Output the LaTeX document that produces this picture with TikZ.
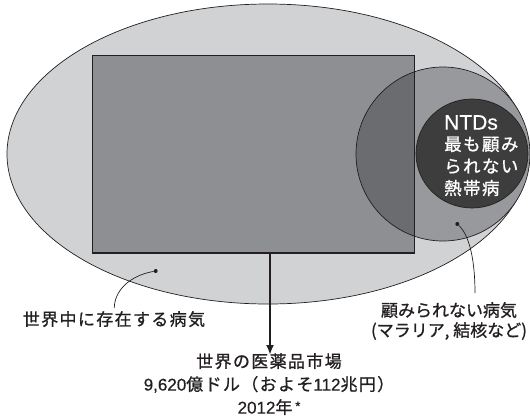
\documentclass[tikz,border=0pt]{standalone}
\usepackage{fontspec}
\setmainfont{Noto Sans CJK JP}[LetterSpace=8, FakeBold=1.0]
\newfontfamily\latn{Liberation Sans}[FakeBold=0.5]
\newfontfamily\jptight{Noto Sans CJK JP}[FakeBold=1.0]
\usetikzlibrary{arrows.meta,shapes.geometric}
\definecolor{ellfill}{HTML}{D1D2D4}
\definecolor{rectfill}{HTML}{8E8F93}
\definecolor{circfill}{HTML}{98999C}
\definecolor{overfill}{HTML}{6B6C70}
\definecolor{ntdfill}{HTML}{3D3D3D}
\definecolor{ink}{HTML}{231F20}
\tikzset{
  shapeline/.style={draw=ink, line width=0.7pt},
  lbl/.style={font=\fontsize{17}{20.5}\selectfont, align=center, inner sep=0pt, text=ink},
  leader/.style={draw=ink, line width=0.7pt},
  dotm/.style={circle, fill=ink, inner sep=0pt, minimum size=4pt},
}
\begin{document}
\begin{tikzpicture}[x=1pt,y=-1pt]
\useasboundingbox (0,0) rectangle (530,418);
% world ellipse
\node[shapeline, fill=ellfill, ellipse, minimum width=522pt, minimum height=300pt, inner sep=0pt] (world) at (268,154) {};
% neglected circle
\node[fill=circfill, circle, minimum size=174pt, inner sep=0pt] (neg) at (443,154) {};
% market rectangle
\node[shapeline, fill=rectfill, rectangle, minimum width=321.6pt, minimum height=197pt, inner sep=0pt] (market) at (253.5,154.2) {};
% overlap
\begin{scope}
  \clip (market.south west) rectangle (market.north east);
  \fill[overfill] (neg.center) circle (87pt);
\end{scope}
\draw[shapeline] (market.south west) rectangle (market.north east);
\draw[shapeline] (neg.center) circle (87pt);
% NTDs
\node[shapeline, fill=ntdfill, ellipse, minimum width=112pt, minimum height=109pt, inner sep=0pt] (ntd) at (472,153.5) {};
\node[text=white, align=left, anchor=north west, inner sep=0pt, font=\fontsize{17.5}{22}\selectfont] (ntdtxt) at (444,115)
  {{\latn\fontsize{21}{21}\selectfont NTDs}\\[-1pt]最も顧み\\られない\\熱帯病};
% dots
\node[dotm] (d1) at (155.7,271) {};
\node[dotm] (d2) at (457.3,224) {};
\coordinate (e1) at (114.3,308);
\coordinate (e2) at (475,293);
\draw[leader] (d1) .. controls (128,276) and (114.3,292) .. (e1);
\draw[leader] (d2) .. controls (470,236) and (475,262) .. (e2);
% labels
\node[lbl, anchor=north] (l1) at (114,311) {世界中に存在する病気};
\node[lbl, anchor=north, font=\jptight\fontsize{17}{20}\selectfont] (l2) at (449,302) {顧みられない病気\\(マラリア, 結核など)};
% arrow
\draw[draw=ink, line width=2.4pt, -{Latex[length=10pt,width=8pt]}] (market.south -| 270,0) -- (270,355);
\node[lbl, anchor=north, font=\fontsize{17}{23}\selectfont] (l3) at (269,353) {世界の医薬品市場\\{\latn\fontsize{17}{16}\selectfont 9,620}億ドル（およそ{\latn\fontsize{17}{16}\selectfont 112}兆円）\\{\latn\fontsize{17}{16}\selectfont 2012}年\,\raisebox{3pt}{\latn\fontsize{13}{13}\selectfont *}};
\end{tikzpicture}
\end{document}
